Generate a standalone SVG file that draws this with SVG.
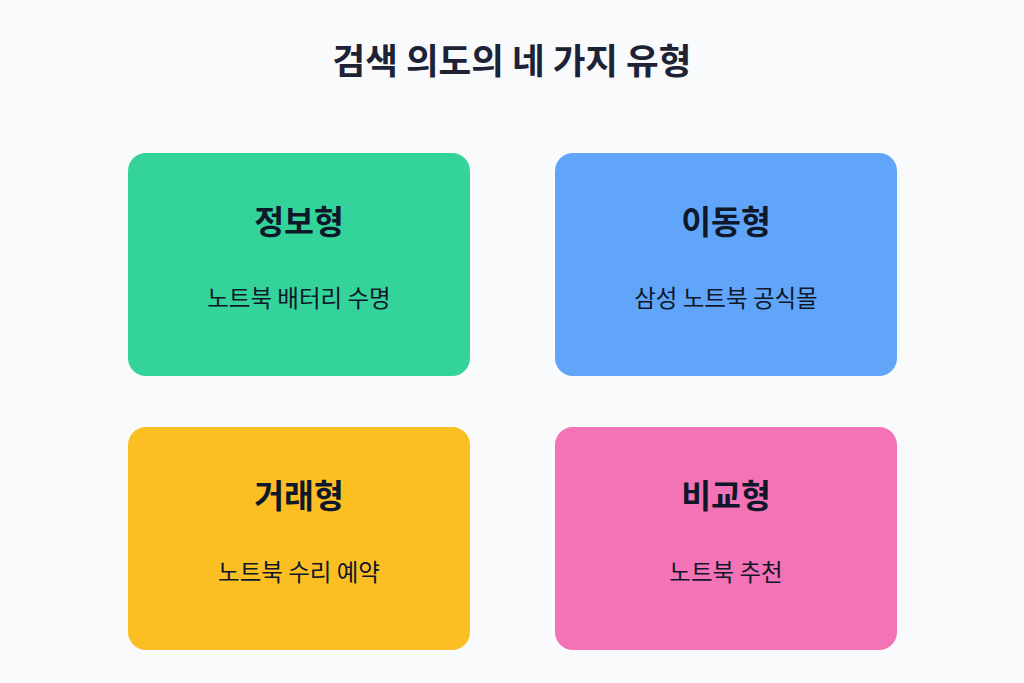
<svg xmlns="http://www.w3.org/2000/svg" width="1024" height="683" viewBox="0 0 1024 683">
<style>
text{font-family:"Noto Sans CJK KR","Noto Sans",sans-serif;text-anchor:middle;fill:#0f172a}
.t{font-size:35.5px;font-weight:700;fill:#1e2235}
.h{font-size:32.5px;font-weight:700}
.s{font-size:23.5px;font-weight:400}
</style>
<rect width="1024" height="683" fill="#f8fafc"/>
<text class="t" x="512" y="74">검색 의도의 네 가지 유형</text>
<g id="info"><rect x="128" y="153" width="342" height="223" rx="18" fill="#34d399"/><text class="h" x="299" y="234">정보형</text><text class="s" x="299" y="307">노트북 배터리 수명</text></g>
<g id="nav"><rect x="555" y="153" width="342" height="223" rx="18" fill="#60a5fa"/><text class="h" x="726" y="234">이동형</text><text class="s" x="726" y="307">삼성 노트북 공식몰</text></g>
<g id="trans"><rect x="128" y="427" width="342" height="223" rx="18" fill="#fbbf24"/><text class="h" x="299" y="508">거래형</text><text class="s" x="299" y="581">노트북 수리 예약</text></g>
<g id="comp"><rect x="555" y="427" width="342" height="223" rx="18" fill="#f472b6"/><text class="h" x="726" y="508">비교형</text><text class="s" x="726" y="581">노트북 추천</text></g>
<g id="connectors"/>
</svg>
